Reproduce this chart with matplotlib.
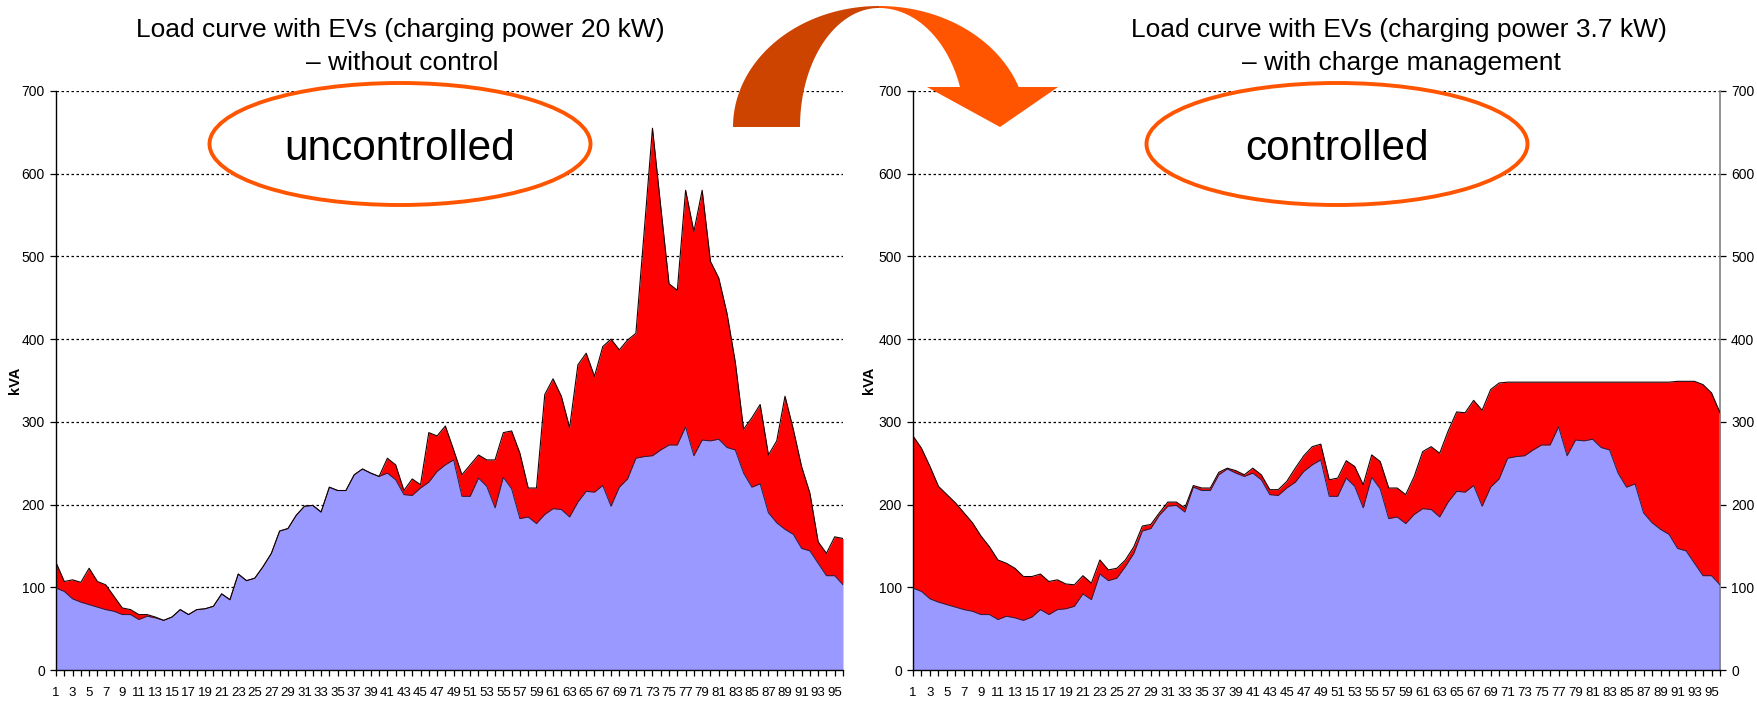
import numpy as np
import matplotlib
matplotlib.use("Agg")
import matplotlib.pyplot as plt
from matplotlib.patches import Ellipse, Polygon
from matplotlib import font_manager as fm

# ---------------- data ----------------
slots = list(range(1, 97))

base_load = [99, 95, 86, 82, 79, 76, 73, 71, 67, 67,
             61, 65, 63, 60, 64, 73, 67, 73, 74, 77,
             92, 85, 116, 108, 111, 125, 141, 168, 171, 187,
             198, 199, 191, 221, 217, 217, 236, 243, 238, 234,
             238, 230, 212, 211, 220, 227, 240, 248, 254, 210,
             210, 232, 222, 196, 233, 219, 183, 185, 177, 188,
             195, 194, 185, 203, 216, 215, 223, 198, 221, 231,
             256, 258, 259, 266, 272, 272, 294, 259, 278, 277,
             279, 269, 266, 238, 221, 225, 190, 178, 170, 164,
             147, 144, 129, 114, 114, 103]

uncontrolled_total = [130, 107, 109, 106, 123, 107, 103, 89, 75, 73,
                      67, 67, 64, 60, 64, 73, 67, 73, 74, 77,
                      92, 85, 116, 108, 111, 125, 141, 168, 171, 187,
                      198, 199, 191, 221, 217, 217, 236, 243, 238, 234,
                      256, 248, 217, 231, 224, 287, 283, 295, 266, 236,
                      248, 260, 254, 254, 287, 289, 262, 220, 220, 333,
                      352, 331, 293, 369, 383, 355, 391, 400, 387, 399,
                      407, 530, 655, 560, 467, 459, 580, 530, 580, 494,
                      474, 431, 372, 291, 305, 321, 260, 277, 331, 291,
                      246, 214, 155, 141, 161, 159]

controlled_total = [283, 268, 246, 222, 212, 202, 190, 178, 162, 149,
                    133, 129, 123, 113, 113, 116, 107, 109, 104, 103,
                    114, 105, 133, 121, 123, 133, 149, 174, 176, 190,
                    203, 203, 196, 223, 220, 220, 239, 244, 241, 236,
                    244, 236, 218, 218, 228, 244, 259, 270, 273, 230,
                    232, 253, 246, 224, 260, 252, 220, 220, 212, 234,
                    264, 270, 262, 289, 312, 311, 326, 314, 339, 347,
                    348, 348, 348, 348, 348, 348, 348, 348, 348, 348,
                    348, 348, 348, 348, 348, 348, 348, 348, 348, 348,
                    349, 349, 349, 345, 335, 311]

y_ticks = [0, 100, 200, 300, 400, 500, 600, 700]
x_labels = [str(s) if s % 2 == 1 else "" for s in slots]

titles = [("Load curve with EVs (charging power 20 kW)", "– without control"),
          ("Load curve with EVs (charging power 3.7 kW)", "– with charge management")]
badges = ["uncontrolled", "controlled"]

# ---------------- style ----------------
W, H = 1758, 703
BLUE = "#9999FF"
RED = "#FF0000"
ORANGE = "#FF5500"
DARK_ORANGE = "#CC4400"

names = {f.name for f in fm.fontManager.ttflist}
MAIN = "Liberation Sans" if "Liberation Sans" in names else "DejaVu Sans"
if "Liberation Sans Narrow" in names:
    XFONT = dict(family="Liberation Sans Narrow", size=11)
    YFONT = dict(family="Liberation Sans Narrow", size=11)
else:
    XFONT = dict(family=MAIN, size=9.5)
    YFONT = dict(family=MAIN, size=10)

plt.rcParams["font.family"] = MAIN

fig = plt.figure(figsize=(W / 100, H / 100), dpi=100)


def fx(x):
    return x / W


def fy(y):
    return 1 - y / H


def make_axes(x0, x1, total, right_axis):
    ax = fig.add_axes([fx(x0), fy(670), fx(x1) - fx(x0), fy(91) - fy(670)])
    ax.set_xlim(1, 96)
    ax.set_ylim(0, 700)
    ax.set_axisbelow(True)
    ax.yaxis.grid(True, color="black", linestyle=(0, (2, 2)), linewidth=0.9)
    ax.fill_between(slots, 0, base_load, color=BLUE, linewidth=0, zorder=2)
    ax.fill_between(slots, base_load, total, color=RED, linewidth=0, zorder=2)
    ax.plot(slots, base_load, color="#20204a", linewidth=0.7, zorder=3)
    ax.plot(slots, total, color="#1a0000", linewidth=0.8, zorder=3)
    ax.set_yticks(y_ticks)
    ax.set_xticks(slots)
    ax.set_xticklabels(x_labels)
    ax.tick_params(axis="x", length=4, width=0.9, pad=8, colors="black")
    ax.tick_params(axis="y", length=4, width=0.9, pad=4, colors="black")
    if right_axis:
        ax.spines["right"].set_color("#808080")
        ax.spines["right"].set_linewidth(1.2)
        ax.tick_params(axis="y", right=True, labelright=True)
    else:
        ax.spines["right"].set_visible(False)
    for t in ax.xaxis.get_major_ticks():
        t.label1.set_fontfamily(XFONT["family"])
        t.label1.set_fontsize(XFONT["size"])
    for t in ax.yaxis.get_major_ticks():
        for lab in (t.label1, t.label2):
            lab.set_fontfamily(YFONT["family"])
            lab.set_fontsize(YFONT["size"])
    ax.spines["top"].set_visible(False)
    ax.spines["left"].set_linewidth(1.0)
    ax.spines["bottom"].set_linewidth(1.0)
    return ax


ax1 = make_axes(56, 843, uncontrolled_total, False)
ax2 = make_axes(913, 1720, controlled_total, True)

# y labels
fig.text(fx(15), fy(380), "kVA", rotation=90, ha="center", va="center",
         fontsize=10.5, fontweight="bold")
fig.text(fx(869), fy(380), "kVA", rotation=90, ha="center", va="center",
         fontsize=10.5, fontweight="bold")

# titles
for (l1, l2), cx in zip(titles, [400, 1399]):
    fig.text(fx(cx), fy(37), l1, ha="center", va="baseline", fontsize=19)
    fig.text(fx(cx + 2), fy(70), l2, ha="center", va="baseline", fontsize=19)

# ellipses with labels
for label, cx in zip(badges, [400, 1337]):
    e = Ellipse((fx(cx), fy(144)), 381 / W, 122 / H, transform=fig.transFigure,
                facecolor="white", edgecolor=ORANGE, linewidth=2.8, zorder=10)
    fig.add_artist(e)
    fig.text(fx(cx), fy(160), label, ha="center", va="baseline", fontsize=30.5,
             zorder=11)


# curved arrow
def arc(cx, cy, rx, ry, t0, t1, n=60):
    ts = np.linspace(t0, t1, n)
    return [(fx(cx + rx * np.cos(t)), fy(cy - ry * np.sin(t))) for t in ts]


dark = arc(879, 127, 146, 121, np.pi, np.pi / 2) + arc(879, 127, 79, 119, np.pi / 2, np.pi)
fig.add_artist(Polygon(dark, closed=True, transform=fig.transFigure,
                       facecolor=DARK_ORANGE, edgecolor="none", zorder=12))
t_out = np.arcsin(40 / 121)
t_in = np.arcsin(40 / 119)
bright = (arc(879, 127, 148, 121, np.pi / 2, t_out)
          + [(fx(1058), fy(87)), (fx(1000), fy(127)), (fx(927), fy(87))]
          + arc(879, 127, 86, 119, t_in, np.pi / 2))
fig.add_artist(Polygon(bright, closed=True, transform=fig.transFigure,
                       facecolor=ORANGE, edgecolor="none", zorder=13))

fig.savefig("out.png", dpi=100)
